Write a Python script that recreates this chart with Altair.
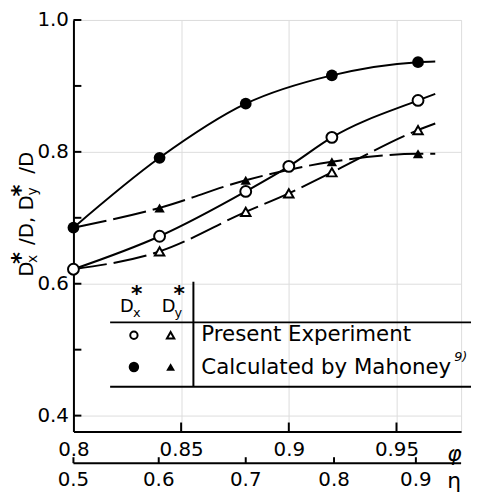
import altair as alt
import pandas as pd

# ---- data ----
phi = [0.80, 0.84, 0.88, 0.90, 0.92, 0.96]
present_dx = [0.622, 0.672, 0.740, 0.778, 0.822, 0.878]   # open circles
present_dy = [0.622, 0.649, 0.709, 0.737, 0.769, 0.833]   # open triangles
calc_phi = [0.80, 0.84, 0.88, 0.92, 0.96]
calc_dx = [0.685, 0.791, 0.873, 0.916, 0.936]             # filled circles
calc_dy = [0.685, 0.715, 0.757, 0.785, 0.797]             # filled triangles
# where each drawn curve ends, a little past the last point
tail_phi = 0.968
tail_present_dx = 0.888
tail_present_dy = 0.843
tail_calc_dx = 0.937
tail_calc_dy = 0.797

phi_ticks = [0.80, 0.85, 0.90, 0.95]
phi_inner_ticks = [0.85, 0.90, 0.95]
y_labels = [0.4, 0.6, 0.8, 1.0]
y_all_ticks = [0.4, 0.5, 0.6, 0.7, 0.8, 0.9, 1.0]
eta_labels = ["0.5", "0.6", "0.7", "0.8", "0.9"]
eta_pos = [0.800, 0.8396, 0.880, 0.921, 0.959]   # position of each eta tick on the phi scale

W, H = 391, 415
FONT = "DejaVu Sans"

def series(name, xs, ys, tx, ty):
    rows = [{"series": name, "phi": a, "v": b} for a, b in zip(xs, ys)]
    rows.append({"series": name, "phi": tx, "v": ty})
    return rows

solid_df = pd.DataFrame(series("pdx", phi, present_dx, tail_phi, tail_present_dx)
                        + series("cdx", calc_phi, calc_dx, tail_phi, tail_calc_dx))
dashed_df = pd.DataFrame(series("pdy", phi, present_dy, tail_phi, tail_present_dy)
                         + series("cdy", calc_phi, calc_dy, tail_phi, tail_calc_dy))
open_c = pd.DataFrame({"phi": phi, "v": present_dx})
open_t = pd.DataFrame({"phi": phi[1:], "v": present_dy[1:]})
fill_c = pd.DataFrame({"phi": calc_phi, "v": calc_dx})
fill_t = pd.DataFrame({"phi": calc_phi[1:], "v": calc_dy[1:]})

xscale = alt.Scale(domain=[0.8, 0.98], nice=False, zero=False)
yscale = alt.Scale(domain=[0.376, 1.0], nice=False, zero=False)
x_enc = alt.X("phi:Q", scale=xscale, title=None,
              axis=alt.Axis(values=phi_ticks, format="~g", ticks=False, labelPadding=8,
                            labelFlush=False, domainWidth=2, domainColor="black",
                            labelFont=FONT, labelFontSize=20, labelColor="black"))
y_enc = alt.Y("v:Q", scale=yscale, title=None,
              axis=alt.Axis(values=y_labels, format=".1f", ticks=False, labelPadding=5,
                            domainWidth=2, domainColor="black",
                            labelFont=FONT, labelFontSize=20, labelColor="black"))

solid = alt.Chart(solid_df).mark_line(interpolate="monotone", color="black", strokeWidth=2).encode(
    x=x_enc, y=y_enc, detail="series:N", order="phi:Q")
dashed = alt.Chart(dashed_df).mark_line(interpolate="monotone", color="black", strokeWidth=2,
                                         strokeDash=[34, 7]).encode(
    x=x_enc, y=y_enc, detail="series:N", order="phi:Q")

pt_open_c = alt.Chart(open_c).mark_point(shape="circle", filled=True, fill="white", stroke="black",
                                          strokeWidth=2, size=120, opacity=1).encode(x=x_enc, y=y_enc)
pt_open_t = alt.Chart(open_t).mark_point(shape="triangle-up", filled=True, fill="white", stroke="black",
                                          strokeWidth=2, size=90, opacity=1).encode(x=x_enc, y=y_enc)
pt_fill_c = alt.Chart(fill_c).mark_point(shape="circle", filled=True, fill="black", size=140,
                                          opacity=1).encode(x=x_enc, y=y_enc)
pt_fill_t = alt.Chart(fill_t).mark_point(shape="triangle-up", filled=True, fill="black", size=110,
                                          opacity=1).encode(x=x_enc, y=y_enc)

# inward ticks
ytick = alt.Chart(pd.DataFrame({"v": y_all_ticks})).mark_rule(color="black", strokeWidth=2).encode(
    y=y_enc, x=alt.value(0), x2=alt.value(8))
xtick = alt.Chart(pd.DataFrame({"phi": phi_inner_ticks})).mark_rule(color="black", strokeWidth=2).encode(
    x=x_enc, y=alt.value(H), y2=alt.value(H - 9))

# eta axis
one = pd.DataFrame({"a": [0]})
eta_line = alt.Chart(one).mark_rule(color="black", strokeWidth=2).encode(
    x=alt.value(0), x2=alt.value(W), y=alt.value(H + 32))
eta_df = pd.DataFrame({"phi": eta_pos, "lab": eta_labels})
eta_tick = alt.Chart(eta_df).mark_rule(color="black", strokeWidth=2).encode(
    x=x_enc, y=alt.value(H + 32), y2=alt.value(H + 26))
eta_text = alt.Chart(eta_df).mark_text(font=FONT, fontSize=20, baseline="top", color="black").encode(
    x=x_enc, y=alt.value(H + 39), text="lab:N")

def txt(s, x, y, size=20, align="left", baseline="alphabetic", angle=0, style="normal", weight="normal"):
    return alt.Chart(one).mark_text(text=s, font=FONT, fontSize=size, align=align, baseline=baseline,
                                    angle=angle, fontStyle=style, fontWeight=weight, color="black").encode(
        x=alt.value(x), y=alt.value(y))

sym_phi = txt("φ", W - 14, H + 30, size=22, style="italic")
sym_eta = txt("η", W - 14, H + 57, size=22)

# rotated y title: D*x/D, D*y/D
ty = [
    txt("D", -41, 259, size=20, angle=270),
    txt("x", -37, 245, size=14, angle=270),
    txt("*", -46, 246, size=23, angle=270, weight="bold"),
    txt("/D, D", -41, 227, size=20, angle=270),
    txt("y", -37, 177, size=14, angle=270),
    txt("*", -46, 178, size=23, angle=270, weight="bold"),
    txt("/D", -41, 155, size=20, angle=270),
]

# table-like legend
leg = [
    alt.Chart(one).mark_rule(color="black", strokeWidth=2).encode(x=alt.value(37), x2=alt.value(401), y=alt.value(305)),
    alt.Chart(one).mark_rule(color="black", strokeWidth=2).encode(x=alt.value(37), x2=alt.value(401), y=alt.value(370)),
    alt.Chart(one).mark_rule(color="black", strokeWidth=2).encode(x=alt.value(121), y=alt.value(264), y2=alt.value(370)),
    txt("D", 47, 295, size=18),
    txt("x", 60, 300, size=13),
    txt("*", 58, 283, size=22, weight="bold"),
    txt("D", 89, 295, size=18),
    txt("y", 102, 300, size=13),
    txt("*", 101, 283, size=22, weight="bold"),
    alt.Chart(one).mark_point(shape="circle", filled=True, fill="white", stroke="black", strokeWidth=2,
                              size=55, opacity=1).encode(x=alt.value(61), y=alt.value(318)),
    alt.Chart(one).mark_point(shape="triangle-up", filled=True, fill="white", stroke="black", strokeWidth=2,
                              size=55, opacity=1).encode(x=alt.value(98), y=alt.value(318)),
    alt.Chart(one).mark_point(shape="circle", filled=True, fill="black", size=110,
                              opacity=1).encode(x=alt.value(61), y=alt.value(350)),
    alt.Chart(one).mark_point(shape="triangle-up", filled=True, fill="black", size=80,
                              opacity=1).encode(x=alt.value(98), y=alt.value(350)),
    txt("Present Experiment", 129, 318, size=21.5, baseline="middle"),
    txt("Calculated by Mahoney", 129, 351, size=21.5, baseline="middle"),
    txt("9)", 384, 344, size=13, style="italic"),
]

chart = alt.layer(
    solid, dashed, pt_open_c, pt_open_t, pt_fill_c, pt_fill_t,
    ytick, xtick, eta_line, eta_tick, eta_text, sym_phi, sym_eta, *ty, *leg
).properties(
    width=W, height=H, autosize="none",
    padding={"left": 66, "top": 10, "right": 12, "bottom": 60},
).configure_view(stroke=None).configure_axis(
    grid=False
).configure(background="white")

chart.save("out.html", embed_options={"renderer": "svg", "actions": False})
